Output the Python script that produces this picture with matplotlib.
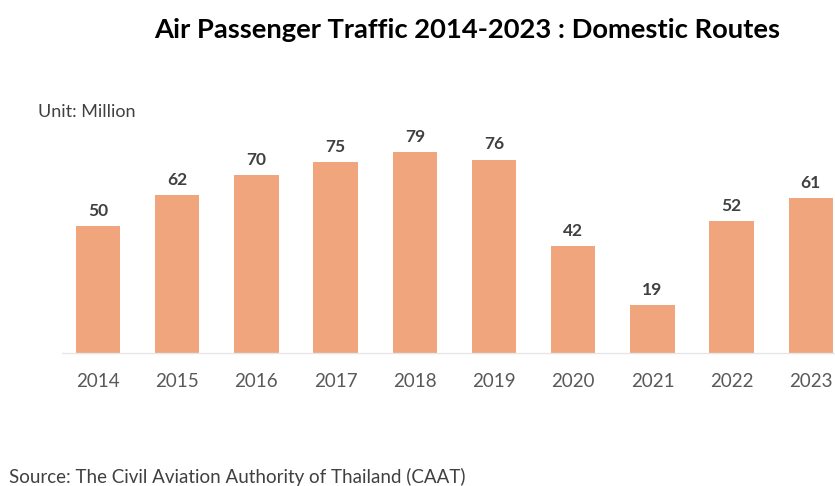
import matplotlib
matplotlib.use("Agg")
import matplotlib.pyplot as plt

plt.rcParams['font.family'] = ['Lato', 'DejaVu Sans']

years = ["2014", "2015", "2016", "2017", "2018", "2019", "2020", "2021", "2022", "2023"]
passengers = [50, 62, 70, 75, 79, 76, 42, 19, 52, 61]

W, H = 835, 486
fig = plt.figure(figsize=(W / 100, H / 100), dpi=100)
fig.patch.set_facecolor("white")

# axes placed in pixel terms: baseline at y=353 px, left edge at x=62 px
left, right = 62, 835
base, top = 353, 98.5
ax = fig.add_axes([left / W, (H - base) / H, (right - left) / W, (base - top) / H])

x = list(range(len(years)))
bars = ax.bar(x, passengers, width=0.56, color="#F0A57C", zorder=2)
ax.set_xlim(-0.4545, 9.305)
ax.set_ylim(0, 100)

for xi, v in zip(x, passengers):
    ax.text(xi, v + 2.8, str(v), ha="center", va="bottom", fontsize=12.5,
            fontweight="bold", color="#404040")

ax.set_xticks(x)
ax.set_xticklabels(years, fontsize=13.5, color="#595959")
ax.tick_params(axis="x", length=0, pad=14.5)
ax.set_yticks([])
for s in ["top", "right", "left"]:
    ax.spines[s].set_visible(False)
ax.spines["bottom"].set_color("#E6E6E6")
ax.spines["bottom"].set_linewidth(1.0)

fig.text(467 / W, 1 - 30 / H, "Air Passenger Traffic 2014-2023 : Domestic Routes",
         ha="center", va="center", fontsize=19.7, fontweight="bold", color="#000000")
fig.text(38 / W, 1 - 112 / H, "Unit: Million", ha="left", va="center",
         fontsize=13, color="#404040")
fig.text(9 / W, 1 - 477 / H, "Source: The Civil Aviation Authority of Thailand (CAAT)",
         ha="left", va="center", fontsize=13.5, color="#404040")

fig.savefig("out.png", dpi=100)
